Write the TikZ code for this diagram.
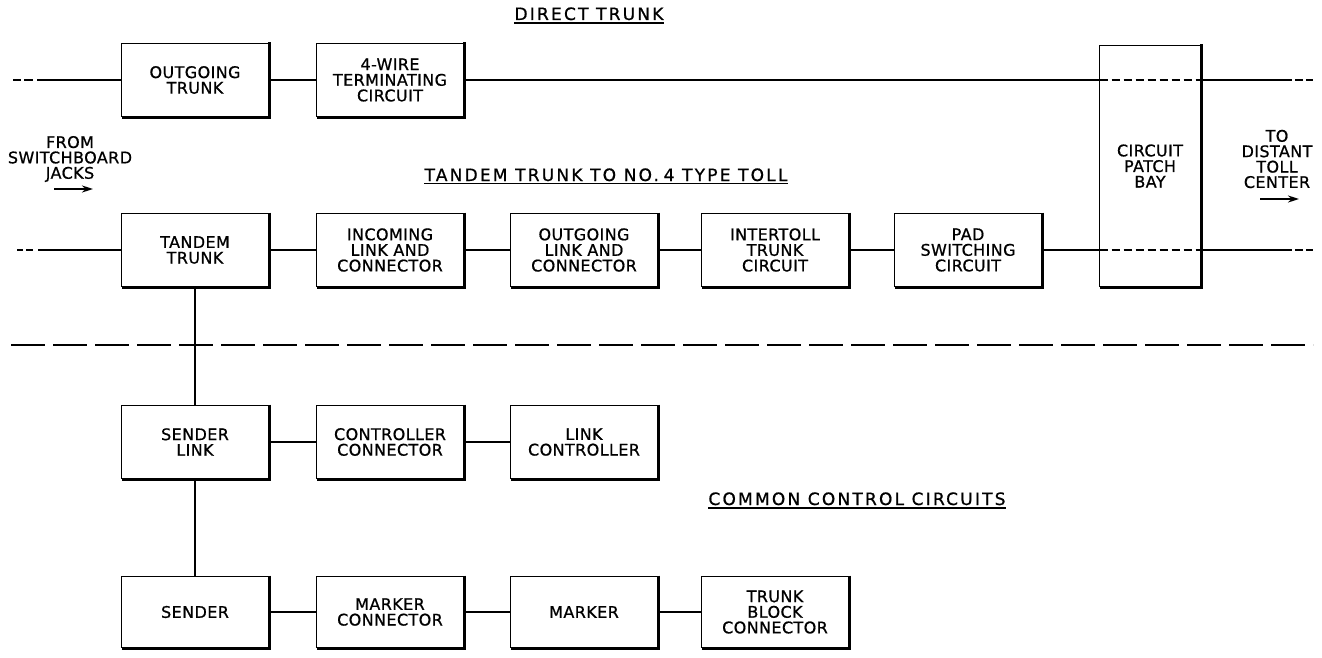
\documentclass[tikz,border=0pt]{standalone}
\usepackage{fontspec}
\setmainfont{DejaVu Sans}
\newfontfamily\boxfont[LetterSpace=2.5,FakeBold=0.8]{DejaVu Sans}
\newfontfamily\titlefont[LetterSpace=13,FakeBold=0.8]{DejaVu Sans}
\usetikzlibrary{arrows.meta}
\begin{document}
\begin{tikzpicture}[x=1pt,y=-1pt,
  blk/.style={draw, line width=1.2pt, minimum width=147pt, minimum height=73pt,
    inner sep=0pt, outer sep=0pt, align=center,
    font=\boxfont\fontsize{16}{15.6}\selectfont},
  sidetext/.style={align=center, inner sep=0pt, font=\boxfont\fontsize{16}{15.4}\selectfont},
  ttl/.style={inner sep=0pt, anchor=base, font=\titlefont\fontsize{17}{18}\selectfont},
  uline/.style={line width=1.6pt},
  wire/.style={line width=2pt},
  shadowln/.style={line width=3pt},
  innerdash/.style={line width=1.2pt, dash pattern=on 8pt off 4pt},
  sepdash/.style={line width=1.5pt, dash pattern=on 34pt off 8pt},
  arr/.style={line width=2pt, -{Stealth[length=11pt,width=7pt]}}
]
\fill[white] (0,0) rectangle (1322,658);
\useasboundingbox (0,0) rectangle (1322,658);

% titles
\node[ttl] (dt) at (589,20) {DIRECT TRUNK};
\draw[uline] ([yshift=-3pt]dt.base west) -- ([yshift=-3pt]dt.base east);
\node[ttl] (tdt) at (606,181) {TANDEM TRUNK TO NO.\;4 TYPE TOLL};
\draw[uline] ([yshift=-2.5pt]tdt.base west) -- ([yshift=-2.5pt]tdt.base east);
\node[ttl] (cct) at (857,505) {COMMON CONTROL CIRCUITS};
\draw[uline] ([yshift=-3pt]cct.base west) -- ([yshift=-3pt]cct.base east);

% boxes
\node[blk] (ot) at (195,80) {OUTGOING\\TRUNK};
\node[blk] (fw) at (390,80) {4-WIRE\\TERMINATING\\CIRCUIT};
\node[blk, minimum width=101pt, minimum height=241pt] (pb) at (1150,166) {CIRCUIT\\PATCH\\BAY};
\node[blk] (tt) at (195,250) {TANDEM\\TRUNK};
\node[blk] (il) at (390,250) {INCOMING\\LINK AND\\CONNECTOR};
\node[blk] (ol) at (584,250) {OUTGOING\\LINK AND\\CONNECTOR};
\node[blk] (it) at (775,250) {INTERTOLL\\TRUNK\\CIRCUIT};
\node[blk] (pd) at (968,250) {PAD\\SWITCHING\\CIRCUIT};
\node[blk] (sl) at (195,442) {SENDER\\LINK};
\node[blk] (cc) at (390,442) {CONTROLLER\\CONNECTOR};
\node[blk] (lc) at (584,442) {LINK\\CONTROLLER};
\node[blk, minimum height=71pt] (sd) at (195,612) {SENDER};
\node[blk, minimum height=71pt] (mc) at (390,612) {MARKER\\CONNECTOR};
\node[blk, minimum height=71pt] (mk) at (584,612) {MARKER};
\node[blk, minimum height=71pt] (tb) at (775,612) {TRUNK\\BLOCK\\CONNECTOR};

% shadows (thick right and bottom edges)
\foreach \n in {ot,fw,pb,tt,il,ol,it,pd,sl,cc,lc,sd,mc,mk,tb}
  \draw[shadowln] ([shift={(1.2,-1)}]\n.north east) -- ([shift={(1.2,1.2)}]\n.south east) -- ([shift={(0,1.2)}]\n.south west);

% side texts
\node[sidetext] (fsj) at (70,159) {FROM\\SWITCHBOARD\\JACKS};
\coordinate (fa1) at (54,189);
\coordinate (fa2) at (93,189);
\draw[arr] (fa1) -- (fa2);
\node[sidetext] (tdc) at (1277,159) {TO\\DISTANT\\TOLL\\CENTER};
\coordinate (ta1) at (1260,199);
\coordinate (ta2) at (1299,199);
\draw[arr] (ta1) -- (ta2);

% row 1 wires
\coordinate (l1a) at (13,80);
\coordinate (l1b) at (21,80);
\coordinate (l1c) at (24,80);
\coordinate (l1d) at (33,80);
\coordinate (l1e) at (37,80);
\draw[wire] (l1a) -- (l1b);
\draw[wire] (l1c) -- (l1d);
\draw[wire] (l1e) -- (ot.west);
\draw[wire] (ot.east) -- (fw.west);
\draw[wire] (fw.east) -- (fw.east -| pb.west);
\draw[innerdash] (fw.east -| pb.west) -- (fw.east -| pb.east);
\coordinate (r1a) at (1292,80);
\coordinate (r1b) at (1295,80);
\coordinate (r1c) at (1303,80);
\coordinate (r1d) at (1306,80);
\coordinate (r1e) at (1313,80);
\draw[wire] ([xshift=2pt]fw.east -| pb.east) -- (r1a);
\draw[wire] (r1b) -- (r1c);
\draw[wire] (r1d) -- (r1e);

% row 2 wires
\coordinate (l2a) at (17,250);
\coordinate (l2b) at (23,250);
\coordinate (l2c) at (26,250);
\coordinate (l2d) at (33,250);
\coordinate (l2e) at (38,250);
\draw[wire] (l2a) -- (l2b);
\draw[wire] (l2c) -- (l2d);
\draw[wire] (l2e) -- (tt.west);
\draw[wire] (tt.east) -- (il.west);
\draw[wire] (il.east) -- (ol.west);
\draw[wire] (ol.east) -- (it.west);
\draw[wire] (it.east) -- (pd.west);
\draw[wire] (pd.east) -- (pd.east -| pb.west);
\draw[innerdash] (pd.east -| pb.west) -- (pd.east -| pb.east);
\coordinate (r2a) at (1292,250);
\coordinate (r2b) at (1295,250);
\coordinate (r2c) at (1303,250);
\coordinate (r2d) at (1306,250);
\coordinate (r2e) at (1313,250);
\draw[wire] ([xshift=2pt]pd.east -| pb.east) -- (r2a);
\draw[wire] (r2b) -- (r2c);
\draw[wire] (r2d) -- (r2e);

% separator
\coordinate (s1) at (11,345);
\coordinate (s2) at (1313,345);
\draw[sepdash] (s1) -- (s2);

% vertical and lower wires
\draw[wire] ([yshift=-1pt]tt.south) -- (sl.north);
\draw[wire] ([yshift=-1pt]sl.south) -- (sd.north);
\draw[wire] (sl.east) -- (cc.west);
\draw[wire] (cc.east) -- (lc.west);
\draw[wire] (sd.east) -- (mc.west);
\draw[wire] (mc.east) -- (mk.west);
\draw[wire] (mk.east) -- (tb.west);
\end{tikzpicture}
\end{document}
